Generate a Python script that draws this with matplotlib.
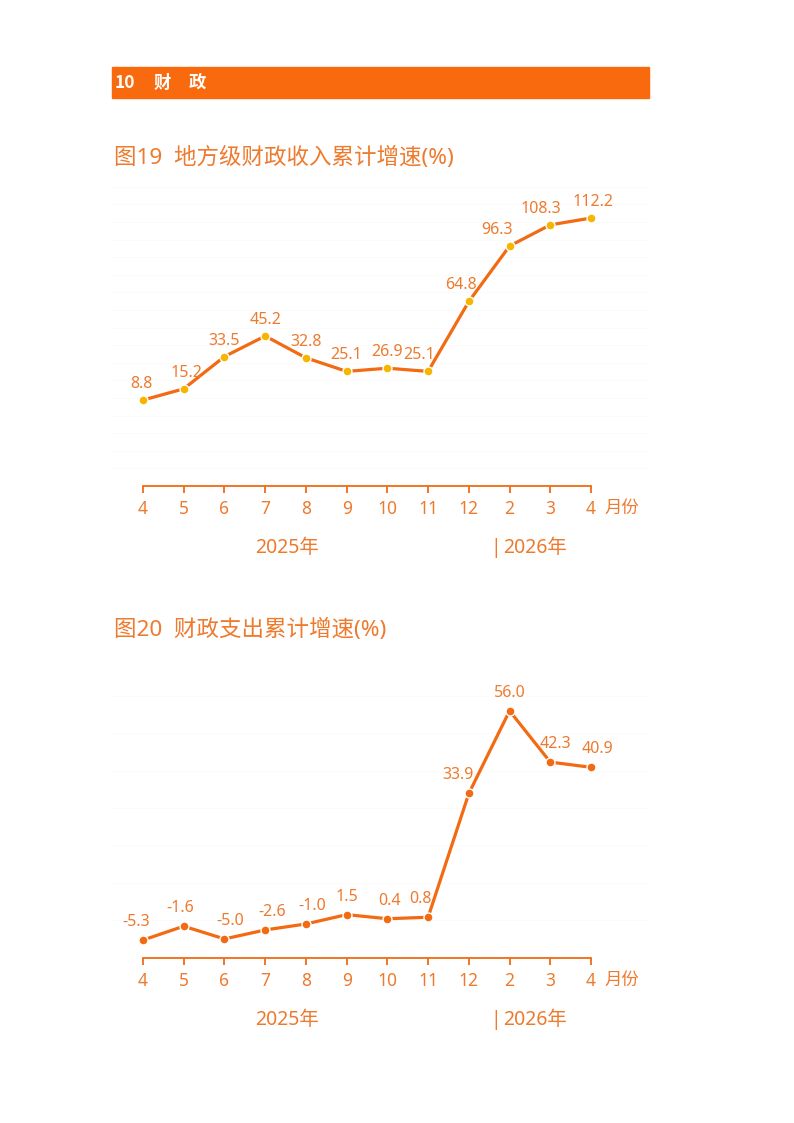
import matplotlib.pyplot as plt
from matplotlib.patches import Rectangle

plt.rcParams['font.family'] = ['Noto Sans', 'Noto Sans CJK SC', 'DejaVu Sans']

# data
months = ['4', '5', '6', '7', '8', '9', '10', '11', '12', '2', '3', '4']
revenue = [8.8, 15.2, 33.5, 45.2, 32.8, 25.1, 26.9, 25.1, 64.8, 96.3, 108.3, 112.2]
spending = [-5.3, -1.6, -5.0, -2.6, -1.0, 1.5, 0.4, 0.8, 33.9, 56.0, 42.3, 40.9]

# label nudges (pixels)
rev_dx = [-2, 3, 0, 0, 0, 0, 0, -9, -8, -13, -9, 2]
spe_dx = [-7, -3, 6, 7, 6, 0, 2, -8, -11, 0, 5, 6]

ORANGE = '#F26A12'
TXT = '#EE7A2E'
GOLD = '#F7B500'

W, H = 794, 1123
fig = plt.figure(figsize=(W / 100, H / 100), dpi=100)


def fx(px):
    return px / W


def fy(py):
    return 1 - py / H


# header bar
fig.patches.append(Rectangle((fx(112), fy(98)), fx(649) - fx(112), fy(67) - fy(98),
                             transform=fig.transFigure, color='#F96A0E', zorder=0))
hdr = dict(color='white', fontsize=12.5, fontweight='bold', va='center',
           family=['Noto Sans CJK SC', 'DejaVu Sans'])
fig.text(fx(115), fy(83), '10', **hdr)
fig.text(fx(154), fy(83), '财', **hdr)
fig.text(fx(189), fy(83), '政', **hdr)


def draw(top, bottom, ymin, ymax, values, dx, label_off, marker_color, title, title_y):
    fig.text(fx(114), fy(title_y), title, color=TXT, fontsize=16.2, va='center')
    left, right = 112, 649
    ax = fig.add_axes([fx(left), fy(bottom), fx(right) - fx(left), fy(top) - fy(bottom)])
    step = (591 - 143) / 11
    ax.set_xlim(-(143 - left) / step, 11 + (right - 591) / step)
    ax.set_ylim(ymin, ymax)
    x = list(range(len(values)))
    # very faint background grid
    for g in range(-40, 140, 10):
        ax.axhline(g, color='#fbfbfb', lw=0.6, zorder=0)
    ax.plot(x, values, color=ORANGE, lw=2.3, zorder=2, solid_capstyle='round')
    ax.scatter(x, values, s=42, color=marker_color, edgecolor='white', linewidth=1.0, zorder=3)
    for xi, v, d in zip(x, values, dx):
        ax.annotate(f'{v:.1f}', (xi, v), xytext=(d * 0.72, label_off * 0.72),
                    textcoords='offset points', ha='center', va='center',
                    color=TXT, fontsize=11.5)
    for s in ['top', 'right', 'left']:
        ax.spines[s].set_visible(False)
    ax.spines['bottom'].set_color(ORANGE)
    ax.spines['bottom'].set_linewidth(1.3)
    ax.spines['bottom'].set_bounds(0, 11)
    ax.set_yticks([])
    ax.set_xticks(x)
    ax.set_xticklabels(months)
    ax.tick_params(axis='x', colors=ORANGE, length=5, width=1.3, pad=5,
                   labelsize=12.5, labelcolor=TXT)
    ax.set_facecolor('none')
    fig.text(fx(604), fy(bottom + 22), '月份', color=TXT, fontsize=12.5, va='center')
    fig.text(fx(287), fy(bottom + 62), '2025年', color=TXT, fontsize=14, va='center', ha='center')
    fig.text(fx(496), fy(bottom + 62), '|', color=TXT, fontsize=14, va='center', ha='center')
    fig.text(fx(503), fy(bottom + 62), '2026年', color=TXT, fontsize=14, va='center', ha='left')


draw(180, 486, -40, 133.8, revenue, rev_dx, 16, GOLD,
     '图19  地方级财政收入累计增速(%)', 158)
draw(660, 958, -10.1, 69.6, spending, spe_dx, 18, ORANGE,
     '图20  财政支出累计增速(%)', 630)

fig.savefig('out.png', dpi=100)
